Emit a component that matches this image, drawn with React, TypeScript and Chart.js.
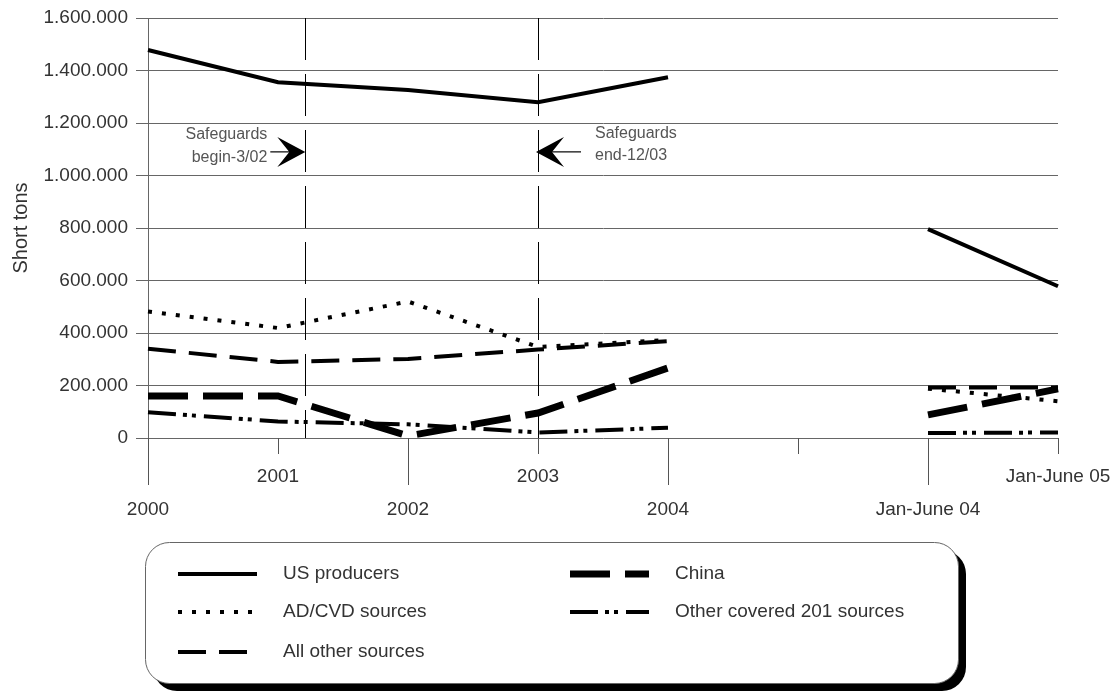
import React, { useEffect, useRef } from "react";
import { Chart, registerables } from "chart.js";

Chart.register(...registerables);

// ---- data ----
const categories = ["2000", "2001", "2002", "2003", "2004", "", "Jan-June 04", "Jan-June 05"];
const usProducers = [1478000, 1355000, 1326000, 1279000, 1374000, null, 796000, 578000];
const adCvdSources = [482000, 419000, 520000, 347000, 373000, null, 188000, 140000];
const allOtherSources = [340000, 290000, 301000, 337000, 369000, null, 192000, 192000];
const china = [160000, 160000, 8000, 95000, 267000, null, 88000, 187000];
const otherCovered201 = [98000, 63000, 52000, 21000, 39000, null, 19000, 21000];
const yMin = 0;
const yMax = 1600000;
const yStep = 200000;
const safeguardBegin = 1.21; // category position (Mar 2002)
const safeguardEnd = 3; // category position (Dec 2003)
const arrowValue = 1090000;

const FONT = "'Liberation Sans', Arial, sans-serif";

const fmt = (v: number) => String(v).replace(/\B(?=(\d{3})+(?!\d))/g, ".");

const annotationPlugin = {
  id: "safeguards",
  beforeDatasetsDraw(chart: any) {
    const { ctx, chartArea } = chart;
    const xs = chart.scales.x;
    ctx.save();
    ctx.strokeStyle = "#000";
    ctx.lineWidth = 1;
    ctx.setLineDash([42, 14]);
    [safeguardBegin, safeguardEnd].forEach((v) => {
      const px = Math.round(xs.getPixelForValue(v)) + 0.5;
      ctx.beginPath();
      ctx.moveTo(px, chartArea.top);
      ctx.lineTo(px, chartArea.bottom);
      ctx.stroke();
    });
    ctx.restore();
  },
  afterDatasetsDraw(chart: any) {
    const { ctx } = chart;
    const xs = chart.scales.x;
    const ys = chart.scales.y;
    const ay = ys.getPixelForValue(arrowValue);
    const drawArrow = (tipX: number, dir: number, shaft: number) => {
      ctx.beginPath();
      ctx.moveTo(tipX, ay);
      ctx.lineTo(tipX - dir * 28, ay - 15);
      ctx.lineTo(tipX - dir * 16, ay);
      ctx.lineTo(tipX - dir * 28, ay + 15);
      ctx.closePath();
      ctx.fill();
      ctx.beginPath();
      ctx.moveTo(tipX - dir * 14, ay);
      ctx.lineTo(tipX - dir * shaft, ay);
      ctx.stroke();
    };
    ctx.save();
    ctx.fillStyle = "#000";
    ctx.strokeStyle = "#000";
    ctx.lineWidth = 1.2;
    const xb = xs.getPixelForValue(safeguardBegin);
    const xe = xs.getPixelForValue(safeguardEnd);
    drawArrow(xb, 1, 35);
    drawArrow(xe - 2, -1, 45);
    ctx.fillStyle = "#555";
    ctx.font = `16px ${FONT}`;
    ctx.textBaseline = "middle";
    ctx.textAlign = "right";
    ctx.fillText("Safeguards", xb - 38, ay - 17);
    ctx.fillText("begin-3/02", xb - 38, ay + 6);
    ctx.textAlign = "left";
    ctx.fillText("Safeguards", xe + 57, ay - 18);
    ctx.fillText("end-12/03", xe + 57, ay + 4);
    ctx.restore();
  },
};

const xTickPlugin = {
  id: "xTickMarks",
  afterDraw(chart: any) {
    const { ctx, chartArea } = chart;
    const xs = chart.scales.x;
    ctx.save();
    ctx.strokeStyle = "#555";
    ctx.lineWidth = 1;
    categories.forEach((_c, i) => {
      const px = Math.round(xs.getPixelForTick(i)) + 0.5;
      const len = i % 2 === 0 ? 47 : 16;
      ctx.beginPath();
      ctx.moveTo(px, chartArea.bottom);
      ctx.lineTo(px, chartArea.bottom + len);
      ctx.stroke();
    });
    ctx.restore();
  },
};

const legendPlugin = {
  id: "boxLegend",
  afterDraw(chart: any) {
    const { ctx } = chart;
    const bx = 145, by = 542, bw = 813, bh = 141, r = 24, sh = 8;
    ctx.save();
    ctx.fillStyle = "#000";
    ctx.beginPath();
    ctx.roundRect(bx + sh, by + sh, bw, bh, r);
    ctx.fill();
    ctx.fillStyle = "#fff";
    ctx.strokeStyle = "#666";
    ctx.lineWidth = 1;
    ctx.beginPath();
    ctx.roundRect(bx + 0.5, by + 0.5, bw, bh, r);
    ctx.fill();
    ctx.stroke();

    const slots = [
      { x: 178, y: 574 },
      { x: 178, y: 612 },
      { x: 178, y: 652 },
      { x: 570, y: 574 },
      { x: 570, y: 612 },
    ];
    chart.data.datasets.forEach((ds: any, i: number) => {
      const s = slots[i];
      if (!s) return;
      ctx.save();
      ctx.strokeStyle = ds.borderColor;
      ctx.lineWidth = ds.borderWidth;
      ctx.setLineDash(ds.borderDash || []);
      ctx.beginPath();
      ctx.moveTo(s.x, s.y);
      ctx.lineTo(s.x + 79, s.y);
      ctx.stroke();
      ctx.restore();
      ctx.fillStyle = "#333";
      ctx.font = `19px ${FONT}`;
      ctx.textBaseline = "middle";
      ctx.textAlign = "left";
      ctx.fillText(ds.label, s.x + 105, s.y);
    });
    ctx.restore();
  },
};

export default function App() {
  const ref = useRef<HTMLCanvasElement>(null);
  useEffect(() => {
    const common = { pointRadius: 0, pointHoverRadius: 0, fill: false, spanGaps: false, tension: 0, borderColor: "#000" };
    const chart = new Chart(ref.current as HTMLCanvasElement, {
      type: "line",
      data: {
        labels: categories,
        datasets: [
          { ...common, label: "US producers", data: usProducers, borderWidth: 4, borderDash: [] },
          { ...common, label: "AD/CVD sources", data: adCvdSources, borderWidth: 4, borderDash: [4, 10] },
          { ...common, label: "All other sources", data: allOtherSources, borderWidth: 4, borderDash: [28, 13] },
          { ...common, label: "China", data: china, borderWidth: 7, borderDash: [40, 15] },
          { ...common, label: "Other covered 201 sources", data: otherCovered201, borderWidth: 4, borderDash: [28, 7, 4, 5, 4, 8] },
        ] as any,
      },
      options: {
        responsive: false,
        animation: false,
        devicePixelRatio: 1,
        layout: { padding: { left: 0, top: 18, right: 59, bottom: 0 } },
        plugins: { legend: { display: false }, tooltip: { enabled: false } },
        scales: {
          x: {
            type: "category",
            offset: false,
            grid: { display: true, drawOnChartArea: false, drawTicks: false },
            border: { display: false },
            ticks: {
              autoSkip: false,
              maxRotation: 0,
              minRotation: 0,
              padding: 22,
              color: "#333",
              font: { family: FONT, size: 19, lineHeight: 1.74 },
              callback: (_v: any, i: number) => (i % 2 === 0 ? ["", categories[i]] : [categories[i]]),
            },
            afterFit: (s: any) => {
              s.height = 253;
              s.paddingLeft = 0;
              s.paddingRight = 0;
            },
          },
          y: {
            min: yMin,
            max: yMax,
            grid: { color: "#666", lineWidth: 1, tickLength: 12, tickColor: "#666" },
            border: { display: true, color: "#666", width: 1 },
            ticks: {
              stepSize: yStep,
              padding: 8,
              color: "#333",
              font: { family: FONT, size: 19 },
              callback: (v: any) => fmt(Number(v)),
            },
            title: {
              display: true,
              text: "Short tons",
              color: "#333",
              font: { family: FONT, size: 20 },
              padding: { top: 9, bottom: 0 },
            },
            afterFit: (s: any) => {
              s.width = 148;
              s.paddingTop = 0;
              s.paddingBottom = 0;
            },
          },
        },
      } as any,
      plugins: [annotationPlugin, xTickPlugin, legendPlugin],
    });
    return () => chart.destroy();
  }, []);
  return (
    <div style={{ position: "absolute", left: 0, top: 0, width: 1117, height: 691, background: "#fff" }}>
      <canvas ref={ref} width={1117} height={691} style={{ display: "block" }} />
    </div>
  );
}
